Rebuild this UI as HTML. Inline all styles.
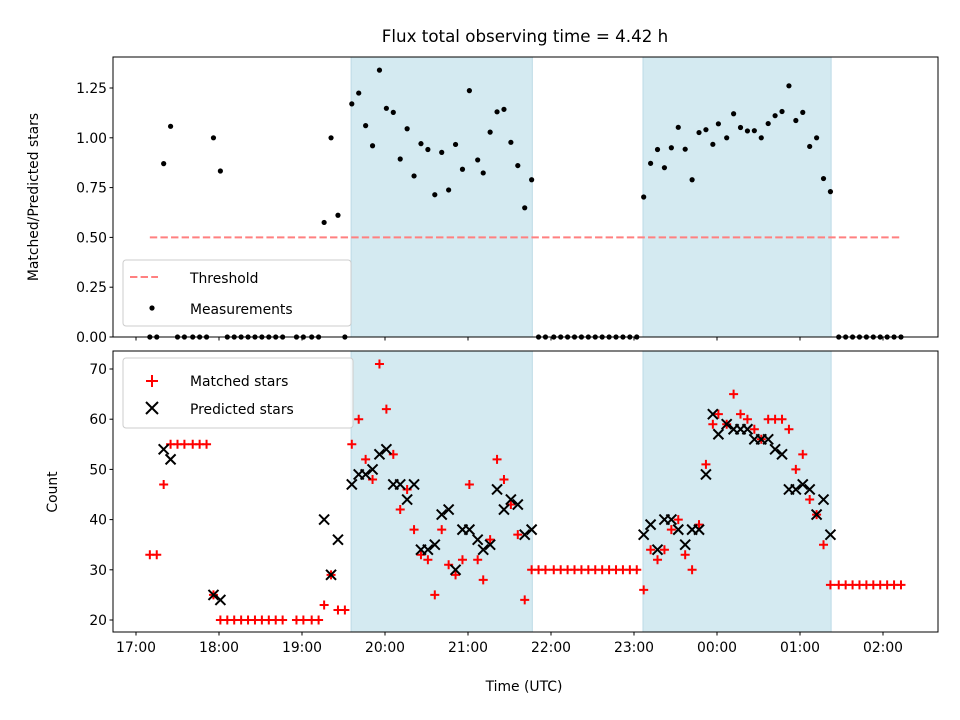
<!DOCTYPE html>
<html><head><meta charset="utf-8"><style>
html,body{margin:0;padding:0;background:#fff;}
svg{display:block;font-family:"DejaVu Sans","Liberation Sans",sans-serif;}
</style></head><body>
<svg id="chart" width="960" height="720" viewBox="0 0 960 720" xmlns="http://www.w3.org/2000/svg"></svg>
<script>
// data: minutes since 17:00 UTC
const minutes = [10,15,20,25,30,35,41,46,51,56,61,66,71,76,81,86,91,96,101,106,116,121,127,132,136,141,146,151,
156,161,166,171,176,181,186,191,196,201,206,211,216,221,226,231,236,241,247,251,256,261,266,271,276,281,286,
291,296,302,307,312,317,322,327,332,337,342,347,352,357,362,
367,372,377,382,387,392,397,402,407,412,417,421,427,432,437,442,447,452,457,462,467,472,477,482,487,492,497,502,
508,513,518,523,528,533,538,543,548,553];
const matched = [33,33,47,55,55,55,55,55,55,25,20,20,20,20,20,20,20,20,20,20,20,20,20,20,23,29,22,22,
55,60,52,48,71,62,53,42,46,38,33,32,25,38,31,29,32,47,32,28,36,52,48,43,37,24,30,
30,30,30,30,30,30,30,30,30,30,30,30,30,30,30,
26,34,32,34,38,40,33,30,39,51,59,61,59,65,61,60,58,56,60,60,60,58,50,53,44,41,35,27,
27,27,27,27,27,27,27,27,27,27];
const predicted = [null,null,54,52,null,null,null,null,null,25,24,null,null,null,null,null,null,null,null,null,null,null,null,null,40,29,36,null,
47,49,49,50,53,54,47,47,44,47,34,34,35,41,42,30,38,38,36,34,35,46,42,44,43,37,38,
null,null,null,null,null,null,null,null,null,null,null,null,null,null,null,
37,39,34,40,40,38,35,38,38,49,61,57,59,58,58,58,56,56,56,54,53,46,46,47,46,41,44,37,
null,null,null,null,null,null,null,null,null,null];
const spanStarts = [155.5, 366.5];
const spanEnds = [286.5, 502.5];
const threshold = 0.5;
const xTickLabels = ["17:00","18:00","19:00","20:00","21:00","22:00","23:00","00:00","01:00","02:00"];
const topTicks = [0,0.25,0.5,0.75,1.0,1.25];
const botTicks = [20,30,40,50,60,70];

const NS="http://www.w3.org/2000/svg";
const svg=document.getElementById('chart');
function mk(tag,attrs,parent){const e=document.createElementNS(NS,tag);for(const k in attrs)e.setAttribute(k,attrs[k]);(parent||svg).appendChild(e);return e;}
const L=113,R=938;
const X=m=>136+m*83/60;
const T={top:57,bot:337}, B={top:351,bot:632};
const YT=v=>337-v*199.2;
const YB=v=>620-(v-20)*5.02;

function panel(p,name){
  let g=mk('g',{});
  
  
  for(let i=0;i<spanStarts.length;i++){
    let r=mk('rect',{x:X(spanStarts[i]),y:p.top,width:X(spanEnds[i])-X(spanStarts[i]),height:p.bot-p.top,fill:'#d4eaf1',stroke:'#bcdbe6','stroke-width':1},g);
    
    
  }
  return g;
}
function frame(p,name){
  let r=mk('rect',{x:L,y:p.top,width:R-L,height:p.bot-p.top,fill:'none',stroke:'#000','stroke-width':1});
  
  
}
function text(s,x,y,opt){const t=mk('text',Object.assign({x:x,y:y,'font-size':13.9,fill:'#000'},opt||{}));t.textContent=s;return t;}

// ---- top panel
const gt=panel(T,'ratio-panel');
let th=mk('line',{x1:X(minutes[0]),x2:X(minutes[minutes.length-1]),y1:YT(threshold),y2:YT(threshold),stroke:'#ff8080','stroke-width':2,'stroke-dasharray':'7.4,3.2'},gt);


for(let i=0;i<minutes.length;i++){
  const r=predicted[i]?matched[i]/predicted[i]:0;
  let c=mk('circle',{cx:X(minutes[i]),cy:YT(r),r:2.6,fill:'#000'},gt);
  
  
}
frame(T,'ratio-axes-frame');
topTicks.forEach(v=>{mk('line',{x1:L-3.5,x2:L,y1:YT(v),y2:YT(v),stroke:'#000'});
  let t=text(v.toFixed(2),L-6,YT(v)+5,{'text-anchor':'end'});
  
  });
xTickLabels.forEach((s,i)=>{mk('line',{x1:X(i*60),x2:X(i*60),y1:T.bot,y2:T.bot+3.5,stroke:'#000'});});
let yl1=text('Matched/Predicted stars',0,0,{'text-anchor':'middle',transform:'translate(38,197) rotate(-90)'});



// top legend
let lg1=mk('g',{});


mk('rect',{x:123,y:260,width:228,height:66,rx:3,fill:'#fff','fill-opacity':0.8,stroke:'#ccc'},lg1);
mk('line',{x1:130,x2:158,y1:277,y2:277,stroke:'#ff8080','stroke-width':2,'stroke-dasharray':'7.4,3.2'},lg1);
lg1.appendChild(text('Threshold',190,283));
mk('circle',{cx:152,cy:308,r:2.6,fill:'#000'},lg1);
lg1.appendChild(text('Measurements',190,314));

// ---- bottom panel
const gb=panel(B,'count-panel');
for(let i=0;i<minutes.length;i++){
  const x=X(minutes[i]),y=YB(matched[i]);
  let p=mk('path',{d:`M${x-4.5},${y}H${x+4.5}M${x},${y-4.5}V${y+4.5}`,stroke:'#ff0000','stroke-width':2,fill:'none'},gb);
  
  
}
for(let i=0;i<minutes.length;i++){
  if(predicted[i]==null)continue;
  const x=X(minutes[i]),y=YB(predicted[i]);
  let p=mk('path',{d:`M${x-5},${y-5}L${x+5},${y+5}M${x-5},${y+5}L${x+5},${y-5}`,stroke:'#000','stroke-width':2,fill:'none'},gb);
  
  
}
frame(B,'count-axes-frame');
botTicks.forEach(v=>{mk('line',{x1:L-3.5,x2:L,y1:YB(v),y2:YB(v),stroke:'#000'});
  let t=text(String(v),L-6,YB(v)+5,{'text-anchor':'end'});
  
  });
xTickLabels.forEach((s,i)=>{mk('line',{x1:X(i*60),x2:X(i*60),y1:B.bot,y2:B.bot+3.5,stroke:'#000'});
  let t=text(s,X(i*60),B.bot+20,{'text-anchor':'middle'});
  
  });
let yl2=text('Count',0,0,{'text-anchor':'middle',transform:'translate(57,492) rotate(-90)'});


let xl=text('Time (UTC)',524,691,{'text-anchor':'middle'});



// bottom legend
let lg2=mk('g',{});


mk('rect',{x:123,y:358,width:230,height:70,rx:3,fill:'#fff','fill-opacity':0.8,stroke:'#ccc'},lg2);
mk('path',{d:'M146,381H158M152,375V387',stroke:'#ff0000','stroke-width':2},lg2);
lg2.appendChild(text('Matched stars',190,386));
mk('path',{d:'M146,402L158,414M146,414L158,402',stroke:'#000','stroke-width':2},lg2);
lg2.appendChild(text('Predicted stars',190,414));

let title=text('Flux total observing time = 4.42 h',525,42,{'text-anchor':'middle','font-size':16.7});


</script>
</body></html>
